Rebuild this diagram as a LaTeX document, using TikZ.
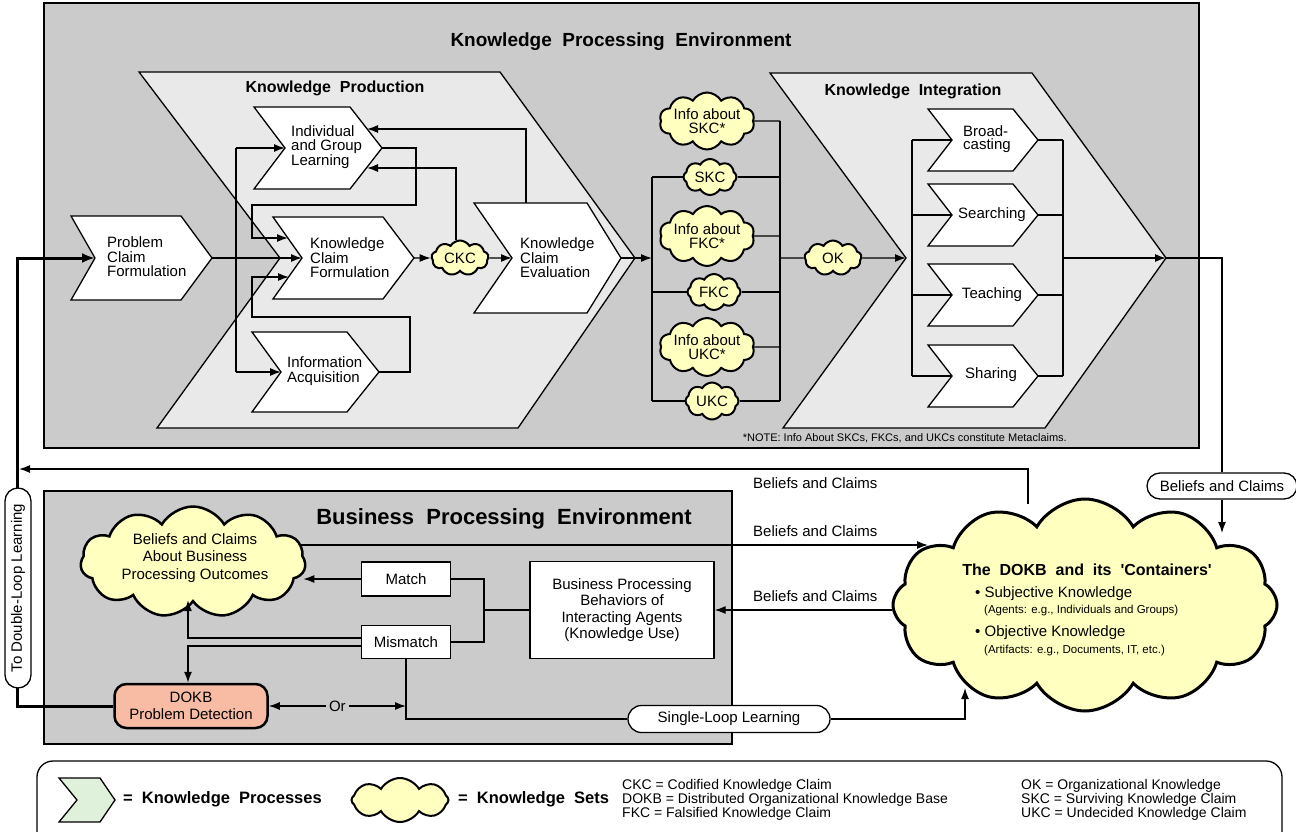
\documentclass[tikz,border=0pt]{standalone}
\usepackage{fontspec}
\setmainfont{Liberation Sans}
\usetikzlibrary{shapes.symbols,shapes.misc,arrows.meta,calc}
\definecolor{envgray}{HTML}{CBCBCB}
\definecolor{chevgray}{HTML}{E9E9E9}
\definecolor{cloudy}{HTML}{FFFFBF}
\definecolor{salmon}{HTML}{F8BCA4}
\definecolor{legreen}{HTML}{DFF1DA}
\newcommand\myfs[2]{\fontsize{#1}{#2}\selectfont}
\newcommand\mychev[7]{%
  \draw[chevline] (#2,#4) -- (#3,#4) -- ({#3+#7},{(#4+#5)/2}) -- (#3,#5) -- (#2,#5) -- ({#2+#6},{(#4+#5)/2}) -- cycle;
  \coordinate (#1-n) at ({#2+#6},{(#4+#5)/2});
  \coordinate (#1-t) at ({#3+#7},{(#4+#5)/2});
}
\newcommand\kcloud[7]{%
  \node[kset=#1, minimum width=#2pt, minimum height=#3pt] (#4) at (#5) {};
  \node[ctext, #7] (#4-txt) at (#4) {#6};
}
\begin{document}
\begin{tikzpicture}[x=1pt,y=-1pt,
  line/.style={line width=1.3pt},
  arr/.style={line width=1.3pt,-{Latex[length=11pt,width=8pt]}},
  darr/.style={line width=1.3pt,{Latex[length=11pt,width=8pt]}-{Latex[length=11pt,width=8pt]}},
  thickarr/.style={line width=3pt,-{Latex[length=13pt,width=10pt]}},
  chevline/.style={line width=1.3pt, fill=white},
  bigchev/.style={line width=1.3pt, fill=chevgray},
  env/.style={line width=2pt, fill=envgray},
  ptext/.style={font=\myfs{15}{14.5}, align=left, inner sep=0pt},
  ctext/.style={font=\myfs{15}{14}, align=center, inner sep=0pt},
  title/.style={font=\bfseries\myfs{16}{16}, inner sep=0pt},
  kset/.style={cloud, cloud puffs=#1, cloud puff arc=120, cloud ignores aspect, draw, line width=2pt, fill=cloudy, inner sep=0pt},
  kset/.default=9,
  box/.style={draw, line width=1.3pt, fill=white, font=\myfs{15}{16.5}, align=center, inner sep=0pt},
  pill/.style={rounded rectangle, draw, line width=1.3pt, fill=white, font=\myfs{15}{15}, inner sep=0pt},
  lbl/.style={font=\myfs{15}{15}, inner sep=0pt, anchor=west},
  abbr/.style={font=\myfs{14}{14}, inner sep=0pt, anchor=west}
]
\useasboundingbox (0,0) rectangle (1296,832);
\clip (0,0) rectangle (1296,832);

% ---------------- Knowledge Processing Environment
\draw[env] (44,3) rectangle (1199,448);
\node[title, font=\bfseries\myfs{19}{19}] (kpe) at (621,42) {Knowledge\ \ Processing\ \ Environment};

\draw[bigchev] (139,72) -- (500,72) -- (635,258) -- (518,428) -- (157,428) -- (280,258) -- cycle;
\draw[bigchev] (770,73) -- (1032,73) -- (1166,258) -- (1045,428) -- (783,428) -- (906,258) -- cycle;
\coordinate (kib-n) at (906,258);
\coordinate (kib-t) at (1166,258);
\node[title] (kpt) at (335,88) {Knowledge\ \ Production};
\node[title] (kit) at (913,91) {Knowledge\ \ Integration};

% production chevrons
\mychev{pcf}{71}{181}{216}{300}{24}{31}
\mychev{igl}{254}{350}{107}{189}{31}{32}
\mychev{kcf}{273}{383}{217}{299}{29}{31}
\mychev{ia}{252}{347}{332}{412}{29}{32}
\mychev{kce}{474}{587}{203}{313}{38}{34}
\node[ptext, anchor=west] (pcft) at (107,257) {Problem\\Claim\\Formulation};
\node[ptext, anchor=west] (iglt) at (291,147) {Individual\\and Group\\Learning};
\node[ptext, anchor=west] (kcft) at (310,258) {Knowledge\\Claim\\Formulation};
\node[ptext, anchor=west] (iat) at (287,371) {Information\\Acquisition};
\node[ptext, anchor=west] (kcet) at (520,258) {Knowledge\\Claim\\Evaluation};

\kcloud{9}{57}{35}{ckc}{460,258}{CKC}{}

\draw[arr] (pcf-t) -- (kcf-n);
\draw[line] (236,148) -- (236,372);
\draw[arr] (236,148) -- (igl-n);
\draw[arr] (236,372) -- (ia-n);
\draw[arr] (igl-t) -- (416,148) -- (416,205) -- (252,205) -- (252,238) -- (288,238);
\draw[arr] (ia-t) -- (410,372) -- (410,317) -- (252,317) -- (252,277) -- (289,277);
\draw[arr] (kcf-t) -- (ckc.west);
\draw[arr] (ckc.east) -- (kce-n);
\draw[arr] ($(ckc.north)+(-4,0)$) |- (367,168);
\coordinate (kcetop) at (526,203);
\draw[arr] (kcetop) |- (367,129);

% knowledge sets
\coordinate (lbx) at (652,0);
\coordinate (rbx) at (780,0);
\kcloud{10}{95}{57}{iskc}{707,121}{Info about\\SKC*}{}
\kcloud{8}{53}{36}{skc}{710,177}{SKC}{}
\kcloud{10}{95}{60}{ifkc}{707,236}{Info about\\FKC*}{}
\kcloud{8}{53}{36}{fkc}{714,292}{FKC}{}
\kcloud{10}{95}{58}{iukc}{707,347}{Info about\\UKC*}{}
\kcloud{8}{53}{37}{ukc}{712,401}{UKC}{}
\kcloud{9}{57}{35}{ok}{833,258}{OK}{}

\draw[line] (lbx |- skc) -- (lbx |- ukc);
\draw[line] (rbx |- iskc) -- (rbx |- ukc);
\foreach \q in {skc,fkc,ukc} {
  \draw[line] (lbx |- \q) -- (\q.west);
  \draw[line] (\q.east) -- (rbx |- \q);
}
\foreach \q in {iskc,ifkc,iukc} {
  \draw[line] (\q.east) -- (rbx |- \q);
}
\draw[arr] (kce-t) -- (lbx |- kce-t);
\draw[line] (rbx |- ok) -- (ok.west);
\draw[arr] (ok.east) -- (kib-n);

% integration chevrons
\mychev{brd}{928}{1013}{109}{171}{24}{25}
\mychev{src}{928}{1013}{184}{246}{24}{25}
\mychev{tch}{928}{1013}{264}{326}{24}{25}
\mychev{shr}{928}{1013}{345}{407}{24}{25}
\node[ptext, anchor=west, font=\myfs{15}{13}] (brdt) at (963,139) {Broad-\\casting};
\node[ptext] (srct) at (992,215) {Searching};
\node[ptext] (tcht) at (992,295) {Teaching};
\node[ptext] (shrt) at (991,375) {Sharing};
\coordinate (klx) at (912,0);
\coordinate (krx) at (1063,0);
\draw[line] (klx |- brd-n) -- (klx |- shr-n);
\draw[line] (krx |- brd-t) -- (krx |- shr-t);
\foreach \q in {brd,src,tch,shr} {
  \draw[line] (klx |- \q-n) -- (\q-n);
  \draw[line] (\q-t) -- (krx |- \q-t);
}
\draw[arr] (krx |- kib-t) -- (kib-t);

\node[font=\myfs{11}{11}, anchor=east, inner sep=0pt] (note) at (1067,438) {*NOTE: Info About SKCs, FKCs, and UKCs constitute Metaclaims.};

% ---------------- Business Processing Environment
\draw[env] (44,491) rectangle (732,744);
\node[font=\bfseries\myfs{22}{22}, inner sep=0pt] (bpe) at (504,519) {Business\ \ Processing\ \ Environment};

\node[kset=11, line width=2.5pt, minimum width=225pt, minimum height=111pt] (bco) at (193,562) {};
\node[ctext, font=\myfs{15}{17.5}] (bcot) at (195,558) {Beliefs and Claims\\About Business\\Processing Outcomes};

\node[box, minimum width=89pt, minimum height=34pt] (match) at (406,579) {Match};
\node[box, minimum width=89pt, minimum height=33pt] (mm) at (406,642) {Mismatch};
\node[box, minimum width=184pt, minimum height=97pt] (bpb) at (622,610) {Business Processing\\Behaviors of\\Interacting Agents\\(Knowledge Use)};
\node[draw, line width=2.5pt, fill=salmon, rounded corners=12pt, minimum width=153pt, minimum height=44pt, align=center, font=\myfs{15}{16.5}, inner sep=0pt] (pd) at (191,706) {DOKB\\Problem Detection};
\node[pill, minimum width=202pt, minimum height=27pt] (sll) at (729,719) {Single-Loop Learning};

\draw[arr] (match.west) -- ($(bco.east |- match.west)+(-3,0)$);
\draw[arr] ($(mm.west)+(0,-4)$) -| ($(bco.south)+(-5,-3)$);
\draw[arr] ($(mm.west)+(0,4)$) -| ($(pd.north)+(-3,0)$);
\coordinate (jx) at (484,0);
\draw[line] (match.east) -| (jx |- mm.east) -- (mm.east);
\draw[line] (jx |- bpb.west) -- (bpb.west);
\draw[darr] (pd.east) -- node[fill=envgray, inner sep=3pt, font=\myfs{15}{15}] (or) {Or} (mm.south |- pd.east);
\draw[line] (mm.south) |- (sll.west);

% ---------------- DOKB cloud
\node[kset=12, line width=3pt, minimum width=384pt, minimum height=212pt] (dokb) at (1085,605) {};
\node[font=\bfseries\myfs{16}{16}, inner sep=0pt] (dokbt) at (1087,570) {The\ \ DOKB\ \ and\ \ its\ \ \textquotesingle Containers\textquotesingle};
\node[lbl] (subj) at (975,594) {• Subjective Knowledge};
\node[lbl, font=\myfs{11.5}{12}] (subjx) at (984,611) {(Agents: e.g., Individuals and Groups)};
\node[lbl] (obj) at (975,633) {• Objective Knowledge};
\node[lbl, font=\myfs{11.5}{12}] (objx) at (984,651) {(Artifacts: e.g., Documents, IT, etc.)};

\coordinate (dktop) at (1222,533);
\coordinate (dktop2) at (1028,504);
\coordinate (dkL1) at (928,545);
\coordinate (dkB) at (965,688);
\coordinate (bcoR) at (299,545);
\coordinate (dlin) at (19,469);

\node[pill, minimum width=150pt, minimum height=26pt] (bcr) at (1222,486) {Beliefs and Claims};
\draw[line] (kib-t) -| (bcr.north);
\draw[arr] (bcr.south) -- (dktop);

\draw[arr] (dktop2) |- (dlin);
\node[lbl] (l1) at (753,483) {Beliefs and Claims};
\draw[arr] (bcoR) -- (dkL1);
\node[lbl] (l2) at (753,531) {Beliefs and Claims};
\draw[arr] (dokb.west |- bpb.east) -- (bpb.east);
\node[lbl] (l3) at (753,596) {Beliefs and Claims};
\draw[arr] (sll.east) -| (dkB);

% double loop
\coordinate (dlx) at (17,258);
\draw[thickarr] (pd.west) -| (dlx) -- (pcf-n);
\node[pill, rotate=90, minimum width=200pt, minimum height=26pt] (dl) at (18,588) {To Double-Loop Learning};

% ---------------- Legend
\draw[line width=1.3pt, rounded corners=16pt, fill=white] (37,761) rectangle (1282,870);
\draw[line width=1.3pt, fill=legreen] (59,778) -- (100,778) -- (115,800) -- (100,822) -- (59,822) -- (77,800) -- cycle;
\node[anchor=west, inner sep=0pt, font=\bfseries\myfs{16.5}{17}] (lg1) at (123,799) {=\ \ Knowledge\ \ Processes};
\node[kset=8, minimum width=97pt, minimum height=44pt] (lgc) at (400,800) {};
\node[anchor=west, inner sep=0pt, font=\bfseries\myfs{16.5}{17}] (lg2) at (458,799) {=\ \ Knowledge\ \ Sets};
\node[abbr] (a1) at (622,786) {CKC = Codified Knowledge Claim};
\node[abbr] (a2) at (622,800) {DOKB = Distributed Organizational Knowledge Base};
\node[abbr] (a3) at (622,814) {FKC = Falsified Knowledge Claim};
\node[abbr] (a4) at (1021,786) {OK = Organizational Knowledge};
\node[abbr] (a5) at (1021,800) {SKC = Surviving Knowledge Claim};
\node[abbr] (a6) at (1021,814) {UKC = Undecided Knowledge Claim};
\end{tikzpicture}
\end{document}
